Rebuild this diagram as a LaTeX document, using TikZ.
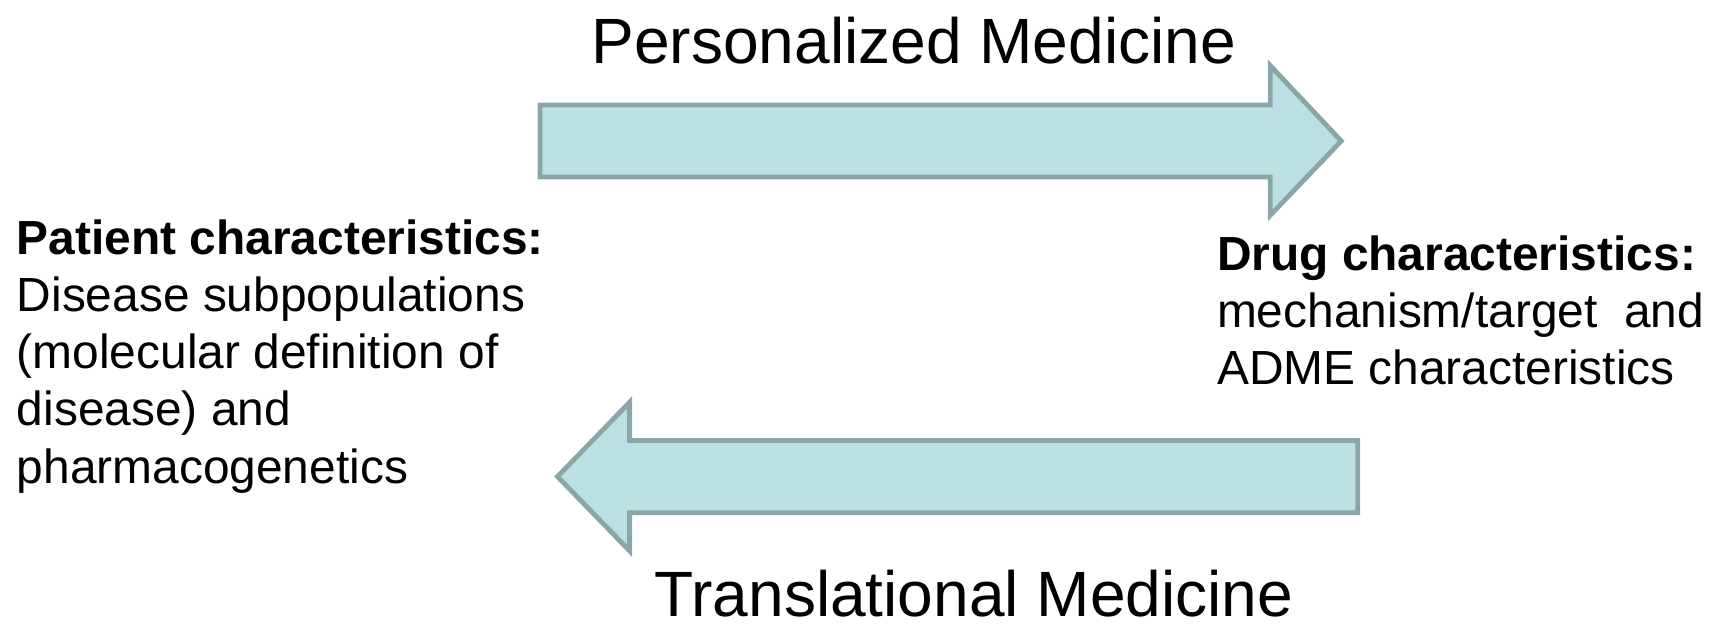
\documentclass[tikz,border=0pt]{standalone}
\usepackage{fontspec}
\setmainfont{Liberation Sans}
\definecolor{arrowfill}{RGB}{187,224,227}
\definecolor{arrowline}{RGB}{139,166,168}
\tikzset{
  bigarrow/.style={%
    draw=arrowline,
    fill=arrowfill,
    line width=2.2pt,
    line join=miter,
  },
  heading/.style={font=\fontsize{29.3}{35}\selectfont, inner sep=0pt},
  infotext/.style={font=\fontsize{21.9}{26.2}\selectfont, align=left, inner sep=0pt, anchor=base west},
}

\begin{document}
\begin{tikzpicture}[x=1pt,y=1pt]
\useasboundingbox (0,0) rectangle (784,286);
% block arrows
\draw[bigarrow] (247,238) -- (581,238) -- (581,256) -- (613.5,221.5)
  -- (581,187.5) -- (581,205) -- (247,205) -- cycle;
\draw[bigarrow] (621,84.5) -- (288,84.5) -- (288,102) -- (255,68)
  -- (288,34) -- (288,51.5) -- (621,51.5) -- cycle;
\node[heading] (personal) at (418,267.5) {Personalized Medicine};
\node[heading] (transl) at (445.5,14.5) {Translational Medicine};
% characteristics on both sides (base = last line)
\node[infotext] (patient) at (7.5,65) {\textbf{Patient characteristics:}\\Disease subpopulations\\(molecular definition of\\disease) and\\pharmacogenetics};
\node[infotext] (drug) at (556.5,110) {\textbf{Drug characteristics:}\\mechanism/target\ \ and\\ADME characteristics};
\end{tikzpicture}
\end{document}
